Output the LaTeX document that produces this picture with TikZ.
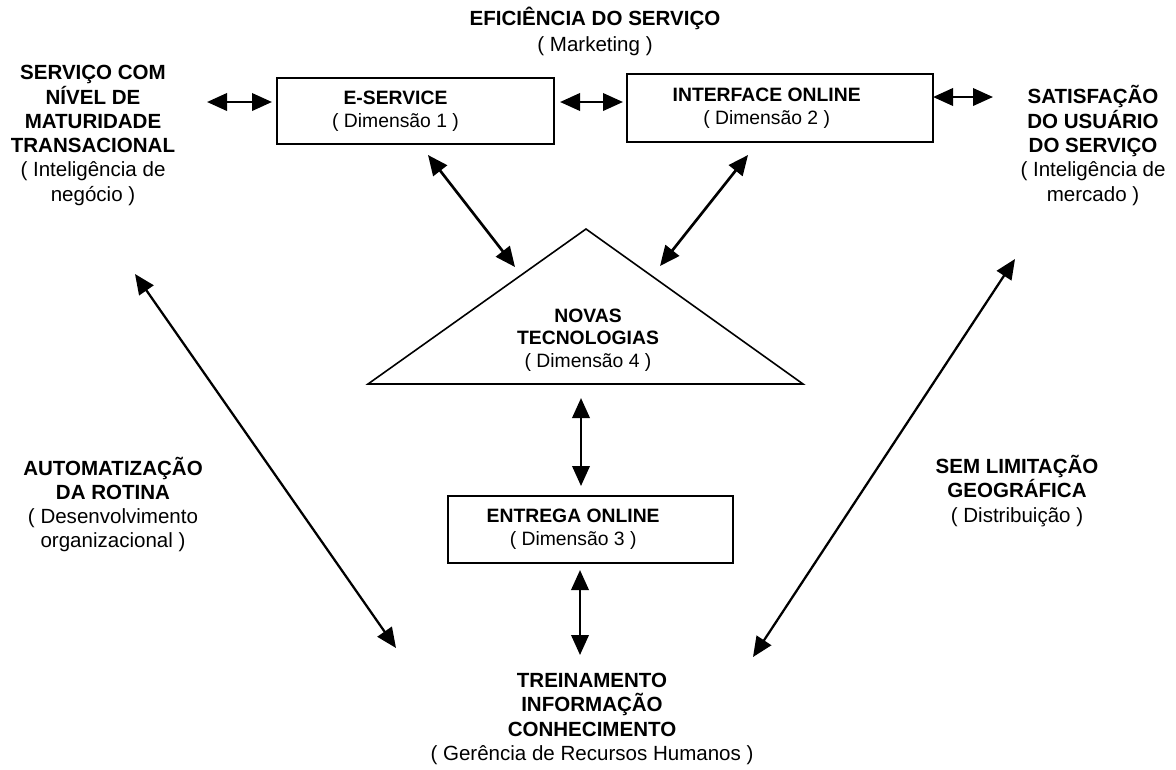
\documentclass[tikz,border=0pt]{standalone}
\usepackage{fontspec}
\setmainfont{Liberation Sans}
\usetikzlibrary{arrows.meta,positioning}

\begin{document}
\begin{tikzpicture}[
  x=0.75pt, y=-0.75pt,
  >={Triangle[length=15pt,width=13pt]},
  lbl/.style={align=center, font=\fontsize{15.4}{18.2}\selectfont, inner sep=0pt},
  inlbl/.style={lbl, font=\fontsize{14.5}{17.5}\selectfont},
  dimbox/.style={draw, line width=1.2pt, inner sep=0pt},
  link/.style={<->, line width=2pt},
]
\useasboundingbox (0,0) rectangle (1176,769);
% dimensions
\node[dimbox, minimum width=207.75pt, minimum height=49.5pt,
  label={[inlbl,xshift=-15pt]center:\textbf{E-SERVICE}\\( Dimensão 1 )}] (esv) at (415.5,111) {};
\node[dimbox, minimum width=229.5pt, minimum height=51pt,
  label={[inlbl,xshift=-10pt]center:\textbf{INTERFACE ONLINE}\\( Dimensão 2 )}] (intf) at (780,108) {};
\node[dimbox, minimum width=213.75pt, minimum height=50.25pt,
  label={[inlbl,xshift=-13pt]center:\textbf{ENTREGA ONLINE}\\( Dimensão 3 )}] (ent) at (590.5,529.5) {};
% the triangle of dimension 4
\coordinate (triL) at (368,384);
\coordinate (triA) at (586,229);
\coordinate (triR) at (803,384);
\draw[line width=1.2pt] (triL) -- (triA) -- (triR) -- cycle;
\node[inlbl, font=\fontsize{14.5}{17}\selectfont] (nt) at (588,340)
  {\textbf{NOVAS}\\\textbf{TECNOLOGIAS}\\( Dimensão 4 )};
% outer labels
\node[lbl, font=\fontsize{15.4}{20}\selectfont] (eff) at (595,31.5) {\textbf{EFICIÊNCIA DO SERVIÇO}\\( Marketing )};
\node[lbl] (mat) at (93,135.5)
  {\textbf{SERVIÇO COM}\\\textbf{NÍVEL DE}\\\textbf{MATURIDADE}\\\textbf{TRANSACIONAL}\\( Inteligência de\\negócio )};
\node[lbl] (sat) at (1093,145.5)
  {\textbf{SATISFAÇÃO}\\\textbf{DO USUÁRIO}\\\textbf{DO SERVIÇO}\\( Inteligência de\\mercado )};
\node[lbl] (auto) at (113,504.5)
  {\textbf{AUTOMATIZAÇÃO}\\\textbf{DA ROTINA}\\( Desenvolvimento\\organizacional )};
\node[lbl] (sem) at (1017,491)
  {\textbf{SEM LIMITAÇÃO}\\\textbf{GEOGRÁFICA}\\( Distribuição )};
\node[lbl] (trn) at (592,719)
  {\textbf{TREINAMENTO}\\\textbf{INFORMAÇÃO}\\\textbf{CONHECIMENTO}\\( Gerência de Recursos Humanos )};
% arrow ends
\coordinate (matE) at (207,102);  \coordinate (esvW) at (272,102);
\coordinate (esvE) at (560,102);  \coordinate (intfW) at (623,102);
\coordinate (intfE) at (933,97);  \coordinate (satW) at (993,97);
\coordinate (esvS) at (428,155);  \coordinate (ntL) at (515,267);
\coordinate (intfS) at (748,155); \coordinate (ntR) at (660,266);
\coordinate (ntS) at (581,398);   \coordinate (entN) at (581,486);
\coordinate (entS) at (580,570);  \coordinate (trnN) at (580,655);
\coordinate (matS) at (135,274);  \coordinate (trnW) at (396,648);
\coordinate (satS) at (1015,259); \coordinate (trnE) at (753,657);
% links
\draw[link] (matE) -- (esvW);
\draw[link] (esvE) -- (intfW);
\draw[link] (intfE) -- (satW);
\draw[link] (esvS) -- (ntL);
\draw[link] (intfS) -- (ntR);
\draw[link] (ntS) -- (entN);
\draw[link] (entS) -- (trnN);
\draw[link, line width=1.7pt] (matS) -- (trnW);
\draw[link, line width=1.7pt] (satS) -- (trnE);
\end{tikzpicture}
\end{document}
